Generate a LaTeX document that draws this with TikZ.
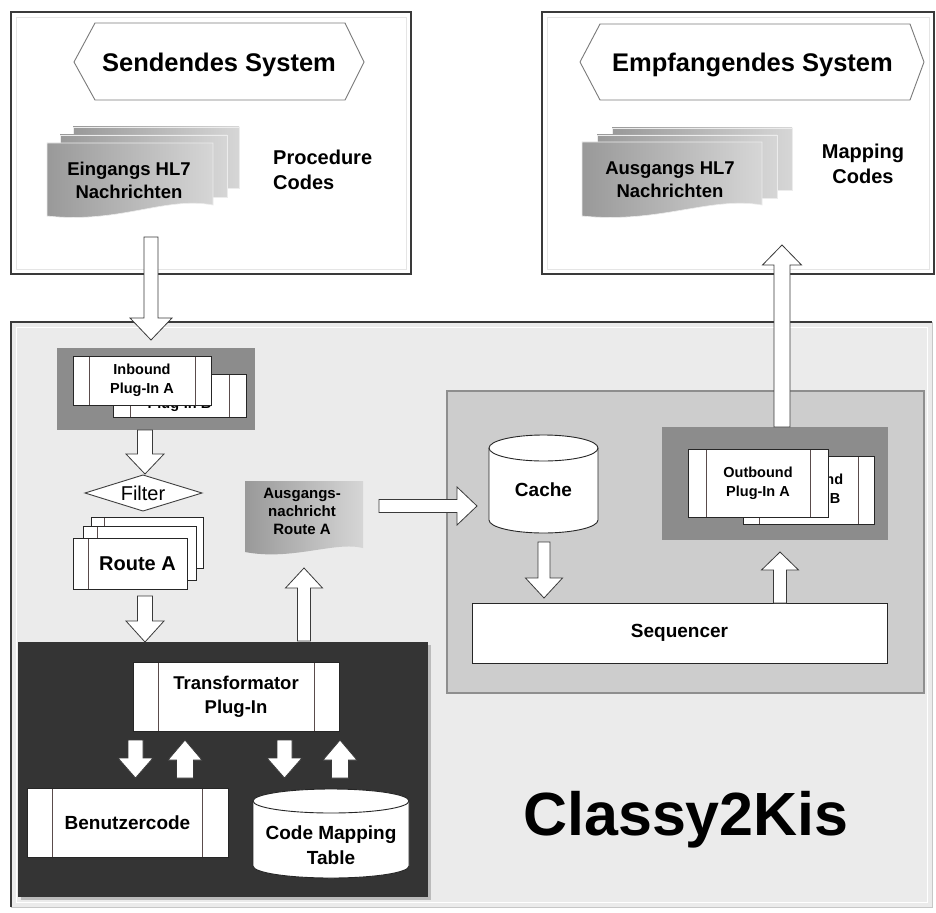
\documentclass[tikz,border=0pt]{standalone}
\usepackage{fontspec}
\setmainfont{Liberation Sans}
\usetikzlibrary{calc,shadows}
\definecolor{bdark}{HTML}{3A3A3A}
\definecolor{mainbg}{HTML}{EBEBEB}
\definecolor{rgray}{HTML}{CDCDCD}
\definecolor{rgrayb}{HTML}{8E8E8E}
\definecolor{plugbg}{HTML}{8C8C8C}
\definecolor{darkbg}{HTML}{343434}
\definecolor{docL}{HTML}{999999}
\definecolor{docR}{HTML}{D6D6D6}
\definecolor{procln}{HTML}{5A4C4C}
\definecolor{hexb}{HTML}{7A7A7A}
\newcommand{\fsz}[2]{\fontsize{#1pt}{#2pt}\selectfont}
% vertical block arrow: from, to, half shaft, half head, head length
\newcommand{\blkv}[5]{%
  \draw[blk] let \p1=(#1), \p2=(#2), \n1={ifthenelse(\y2>\y1,1,-1)} in
  (\x1-#3,\y1) -- (\x1-#3,\y2-\n1*#5) -- (\x1-#4,\y2-\n1*#5) -- (\x1,\y2)
  -- (\x1+#4,\y2-\n1*#5) -- (\x1+#3,\y2-\n1*#5) -- (\x1+#3,\y1) -- cycle;}
% horizontal block arrow (to the right)
\newcommand{\blkh}[5]{%
  \draw[blk] let \p1=(#1), \p2=(#2) in
  (\x1,\y1-#3) -- (\x2-#5,\y1-#3) -- (\x2-#5,\y1-#4) -- (\x2,\y1)
  -- (\x2-#5,\y1+#4) -- (\x2-#5,\y1+#3) -- (\x1,\y1+#3) -- cycle;}
\tikzset{
  box/.style={inner sep=0pt, outer sep=0pt},
  sysbox/.style={box, draw=bdark, line width=1.4pt, fill=white},
  hexs/.style={draw=hexb, line width=0.9pt, fill=white},
  blk/.style={draw=bdark, line width=0.8pt, fill=white, line join=miter},
  doc/.style={left color=docL, right color=docR, draw=white!85!gray, line width=0.6pt},
  procline/.style={draw=procln, line width=0.8pt},
  proc/.style={box, draw=black!85, line width=0.9pt, fill=white, align=center,
    path picture={\draw[procline]
      ([xshift=#1]path picture bounding box.north west) -- ([xshift=#1]path picture bounding box.south west)
      ([xshift=-#1]path picture bounding box.north east) -- ([xshift=-#1]path picture bounding box.south east);}},
  lproc/.style={box, draw=black!85, line width=0.9pt, fill=white,
    path picture={\draw[procline]
      ([xshift=#1]path picture bounding box.north west) -- ([xshift=#1]path picture bounding box.south west);}},
  plainbox/.style={box, draw=black!85, line width=0.9pt, fill=white},
  cyl/.style={draw=black!85, line width=0.9pt, fill=white},
  lbl/.style={inner sep=0pt, align=center},
}
\begin{document}
\begin{tikzpicture}[x=1pt,y=-1pt]
\useasboundingbox (0,0) rectangle (936,912);
\fill[white] (0,0) rectangle (936,912);

% ---------- sending system ----------
\node[sysbox, minimum width=400pt, minimum height=262pt] (sendbox) at (211,143) {};
\draw[black!10] (16,17) rectangle (406,269);
\path[hexs] (74,62) -- (95,23) -- (345,23) -- (364,62) -- (345,100) -- (95,100) -- cycle;
\node[lbl, font=\bfseries\fsz{25.5}{30}] (sendt) at (219,65) {Sendendes System};
\path[doc] (73,127) rectangle (239,188);
\path[doc] (60,135) rectangle (227,197);
\path[doc] (47,143) -- (213,143) -- (213,205) .. controls (165,196) and (120,224) .. (47,216) -- cycle;
\node[lbl, font=\bfseries\fsz{18.5}{23}] (indoc) at (129,180) {Eingangs HL7\\Nachrichten};
\node[lbl, anchor=west, align=left, font=\bfseries\fsz{20}{25}] (proccodes) at (273,170) {Procedure\\Codes};

% ---------- receiving system ----------
\node[sysbox, minimum width=392pt, minimum height=262pt] (recvbox) at (738,143) {};
\draw[black!10] (547,17) rectangle (929,269);
\path[hexs] (580,62) -- (600,24) -- (910,24) -- (924,62) -- (910,100) -- (600,100) -- cycle;
\node[lbl, font=\bfseries\fsz{25.5}{30}] (recvt) at (752.5,65) {Empfangendes System};
\path[doc] (612,128) rectangle (792,190);
\path[doc] (597,135) rectangle (777,198);
\path[doc] (582,142) -- (762,142) -- (762,205) .. controls (710,196) and (660,224) .. (582,216) -- cycle;
\node[lbl, font=\bfseries\fsz{18.5}{23}] (outdoc) at (670,179.5) {Ausgangs HL7\\Nachrichten};
\node[lbl, font=\bfseries\fsz{20}{25}] (mapcodes) at (863,163.5) {Mapping\\Codes};

% ---------- main box ----------
\node[box, fill=mainbg, minimum width=921pt, minimum height=585pt] (mainbox) at (471.5,614.5) {};
\draw[white, line width=1pt] (16,327) rectangle (927,902);
\draw[black!22, line width=1pt] (mainbox.north east) -- (mainbox.south east) -- (mainbox.south west);
\draw[bdark, line width=1.4pt] (mainbox.south west) -- (mainbox.north west) -- (mainbox.north east);

% inbound plug-ins
\node[box, fill=plugbg, minimum width=198pt, minimum height=82pt] (inbox) at (156,389) {};
\node[proc=17pt, minimum width=133pt, minimum height=43pt, font=\bfseries\fsz{14.5}{18.5}] (inB) at (179.5,395.5) {Inbound\\Plug-In B};
\node[proc=16pt, minimum width=138pt, minimum height=49pt, font=\bfseries\fsz{14.5}{18.5}] (inA) at (142,380.5) {Inbound\\Plug-In A};

% filter
\path[draw=black!75, line width=0.9pt, fill=white] (85,493) -- (143,475) -- (202,493) -- (143,511) -- cycle;
\node[lbl, font=\fsz{20}{24}] (filter) at (143,493) {Filter};
\coordinate (filtertop) at (143,474);

% route stack
\node[lproc=13pt, minimum width=112pt, minimum height=51pt] (routeC) at (147,542.5) {};
\node[lproc=14pt, minimum width=113pt, minimum height=54pt] (routeB) at (139.5,553) {};
\node[lproc=15pt, minimum width=114pt, minimum height=51pt, font=\bfseries\fsz{20}{24}] (route) at (130,563.5) {\hspace*{15pt}Route A};

% output message document
\path[doc, draw=none] (245,481) -- (363,481) -- (363,548) .. controls (335,541) and (292,561) .. (245,552) -- cycle;
\node[lbl, font=\bfseries\fsz{15}{18}] (outmsg) at (302,511) {Ausgangs-\\nachricht\\Route A};
\coordinate (outmsgbot) at (304,568);

% right gray box
\node[box, fill=rgray, draw=rgrayb, line width=1.4pt, minimum width=477pt, minimum height=302pt] (seqbox) at (685.5,542) {};

% cache cylinder
\path[cyl] (489,448) -- (489,520) arc[start angle=180, end angle=360, x radius=54.5pt, y radius=13pt]
  -- (598,448) arc[start angle=0, end angle=180, x radius=54.5pt, y radius=13pt] -- cycle;
\draw[black!85, line width=0.9pt] (489,448) arc[start angle=180, end angle=360, x radius=54.5pt, y radius=13pt];
\node[lbl, font=\bfseries\fsz{19}{23}] (cache) at (543.5,490) {Cache};
\coordinate (cacheleft) at (477,506);
\coordinate (cachebot) at (544,542);

% sequencer
\node[plainbox, minimum width=415pt, minimum height=60pt, font=\bfseries\fsz{19}{23}] (seq) at (679.5,633) {Sequencer};

% outbound plug-ins
\node[box, fill=plugbg, minimum width=226pt, minimum height=113pt] (outbox) at (775,483.5) {};
\node[proc=16pt, minimum width=131pt, minimum height=68pt, font=\bfseries\fsz{14.5}{19}] (outB) at (808.5,490) {Outbound\\Plug-In B};
\node[proc=18pt, minimum width=140pt, minimum height=68pt, font=\bfseries\fsz{14.5}{19}] (outA) at (758,483) {Outbound\\Plug-In A};
\coordinate (outboxbot) at (780,552);

% dark transformer box
\node[box, fill=darkbg, minimum width=410pt, minimum height=255pt,
  drop shadow={shadow xshift=3pt, shadow yshift=-3pt, fill=black!45}] (darkbox) at (223,769.5) {};
\node[proc=25pt, minimum width=206pt, minimum height=69pt, font=\bfseries\fsz{18.5}{24}] (trans) at (236,696.5) {Transformator\\Plug-In};
\node[proc=25.5pt, minimum width=201pt, minimum height=69pt, font=\bfseries\fsz{19}{23}] (user) at (127.5,822.5) {Benutzercode};
\path[cyl] (253,801) -- (253,866) arc[start angle=180, end angle=360, x radius=78pt, y radius=12pt]
  -- (409,801) arc[start angle=0, end angle=180, x radius=78pt, y radius=12pt] -- cycle;
\draw[black!85, line width=0.9pt] (253,801) arc[start angle=180, end angle=360, x radius=78pt, y radius=12pt];
\node[lbl, font=\bfseries\fsz{19}{25}] (cmt) at (331,845.5) {Code Mapping\\Table};

% title
\node[lbl, font=\bfseries\fsz{61}{70}] (title) at (686,820) {Classy2Kis};

% ---------- block arrows ----------
\coordinate (a2s) at (145,430);
\coordinate (a3s) at (145,596);
\coordinate (a4s) at (304,641);
\coordinate (a5s) at (379,506);
\coordinate (a7s) at (780,603);
\blkv{a2s}{a2s |- filtertop}{7.5pt}{19pt}{20pt}
\blkv{a3s}{a3s |- darkbox.north}{7.5pt}{19pt}{21pt}
\blkv{a4s}{outmsgbot}{6.5pt}{18.5pt}{20pt}
\blkh{a5s}{cacheleft}{6.5pt}{19pt}{20pt}
\blkv{cachebot}{cachebot |- 0,598}{6pt}{18.5pt}{20pt}
\blkv{a7s}{outboxbot}{6.5pt}{18.5pt}{18pt}

\coordinate (d1s) at (135.5,740); \coordinate (d1e) at (135.5,778);
\coordinate (d2s) at (185,778);   \coordinate (d2e) at (185,740);
\coordinate (d3s) at (284.5,740); \coordinate (d3e) at (284.5,778);
\coordinate (d4s) at (340,778);   \coordinate (d4e) at (340,740);
\blkv{d1s}{d1e}{7.5pt}{17.5pt}{20pt}
\blkv{d2s}{d2e}{8.5pt}{17pt}{20pt}
\blkv{d3s}{d3e}{7.5pt}{17.5pt}{20pt}
\blkv{d4s}{d4e}{8.5pt}{17pt}{20pt}

\coordinate (a1s) at (151,237); \coordinate (a1e) at (151,340);
\blkv{a1s}{a1e}{7pt}{21pt}{22pt}
\coordinate (a8s) at (782,427); \coordinate (a8e) at (782,245);
\blkv{a8s}{a8e}{8pt}{19.5pt}{20pt}
\end{tikzpicture}
\end{document}
